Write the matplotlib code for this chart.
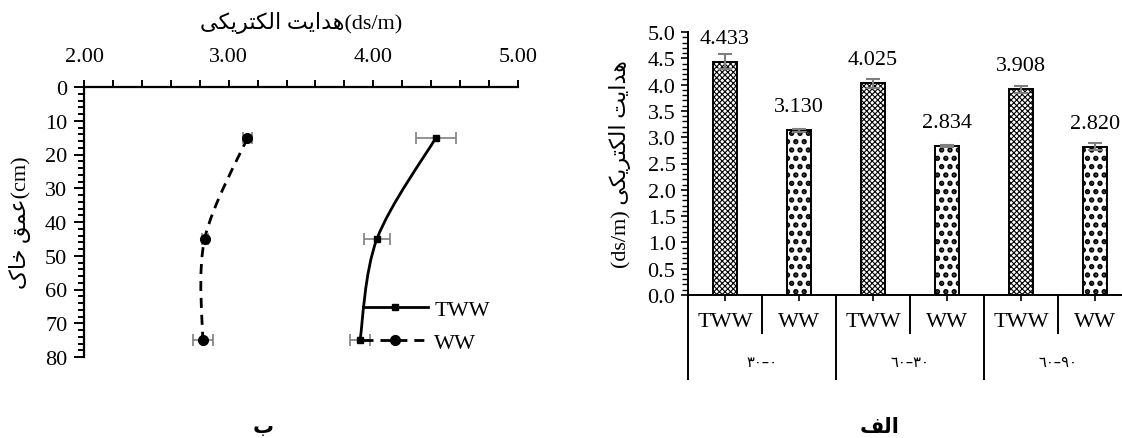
import matplotlib
matplotlib.use('Agg')
import matplotlib.pyplot as plt
import numpy as np
from matplotlib.path import Path
from matplotlib.patches import PathPatch
from matplotlib.lines import Line2D
from matplotlib.ticker import MultipleLocator, FormatStrFormatter

# data
treatments = ['TWW', 'WW']
depth_groups = ['\u0663\u0660\u2013\u0660', '\u0666\u0660\u2013\u0663\u0660', '\u0666\u0660\u2013\u0669\u0660']
depth_cm = [15, 45, 75]
ec_tww = [4.433, 4.025, 3.908]
ec_ww = [3.130, 2.834, 2.820]
err_tww = [0.14, 0.09, 0.07]
err_ww = [0.03, 0.02, 0.07]

# small persian shaper (presentation forms, visual order)
KEHEH = ('\uFB8E', '\uFB8F', '\uFB90', '\uFB91')
YEH = ('\uFBFC', '\uFBFD', '\uFBFE', '\uFBFF')
FORMS = {
    '\u0627': ('\uFE8D', '\uFE8E', None, None),
    '\u0628': ('\uFE8F', '\uFE90', '\uFE91', '\uFE92'),
    '\u062A': ('\uFE95', '\uFE96', '\uFE97', '\uFE98'),
    '\u062E': ('\uFEA5', '\uFEA6', '\uFEA7', '\uFEA8'),
    '\u062F': ('\uFEA9', '\uFEAA', None, None),
    '\u0631': ('\uFEAD', '\uFEAE', None, None),
    '\u0639': ('\uFEC9', '\uFECA', '\uFECB', '\uFECC'),
    '\u0641': ('\uFED1', '\uFED2', '\uFED3', '\uFED4'),
    '\u0642': ('\uFED5', '\uFED6', '\uFED7', '\uFED8'),
    '\u0644': ('\uFEDD', '\uFEDE', '\uFEDF', '\uFEE0'),
    '\u0645': ('\uFEE1', '\uFEE2', '\uFEE3', '\uFEE4'),
    '\u0647': ('\uFEE9', '\uFEEA', '\uFEEB', '\uFEEC'),
    '\u06A9': KEHEH, '\u0643': KEHEH,
    '\u06CC': YEH, '\u064A': YEH,
}


def fa(s):
    out = []
    for i, c in enumerate(s):
        f = FORMS.get(c)
        if f is None:
            out.append(c)
            continue
        prev = s[i - 1] if i > 0 else ''
        nxt = s[i + 1] if i + 1 < len(s) else ''
        jp = prev in FORMS and FORMS[prev][2] is not None
        jn = f[2] is not None and nxt in FORMS
        out.append(f[3] if (jp and jn) else f[1] if jp else f[2] if jn else f[0])
    return ''.join(reversed(out))


ec_word = fa('\u0647\u062F\u0627\u06CC\u062A \u0627\u0644\u06A9\u062A\u0631\u06CC\u06A9\u06CC')
depth_word = fa('\u0639\u0645\u0642 \u062E\u0627\u06A9')

FAM = ['Liberation Serif', 'DejaVu Sans']
plt.rcParams['font.family'] = FAM
plt.rcParams['font.size'] = 16


def smooth_path(x, y):
    pts = np.column_stack([x, y]).astype(float)
    p = np.vstack([pts[0], pts, pts[-1]])
    verts = [pts[0]]
    codes = [Path.MOVETO]
    for i in range(1, len(pts)):
        p0, p1, p2, p3 = p[i - 1], p[i], p[i + 1], p[i + 2]
        verts += [p1 + (p2 - p0) / 6, p2 - (p3 - p1) / 6, p2]
        codes += [Path.CURVE4] * 3
    return Path(verts, codes)


fig = plt.figure(figsize=(11.22, 4.39), dpi=100)

# ---- left: depth profile ----
ax1 = fig.add_axes([84 / 1122, 81 / 439, 434 / 1122, 270 / 439])
ax1.set_xlim(2, 5)
ax1.set_ylim(80, 0)
for s in ['bottom', 'right']:
    ax1.spines[s].set_visible(False)
for s in ['top', 'left']:
    ax1.spines[s].set_linewidth(1.6)
ax1.xaxis.tick_top()
ax1.xaxis.set_label_position('top')
ax1.xaxis.set_major_locator(MultipleLocator(1))
ax1.xaxis.set_minor_locator(MultipleLocator(0.2))
ax1.xaxis.set_major_formatter(FormatStrFormatter('%.2f'))
ax1.yaxis.set_major_locator(MultipleLocator(10))
ax1.yaxis.set_minor_locator(MultipleLocator(2))
ax1.tick_params(axis='x', which='both', direction='out', length=5, width=1.4, pad=10)
ax1.tick_params(axis='y', which='major', direction='out', length=7, width=1.4, pad=5)
ax1.tick_params(axis='y', which='minor', direction='out', length=4, width=1.4)
ax1.set_xlabel(ec_word + '(ds/m)', labelpad=14)
ax1.set_ylabel(depth_word + '(cm)', labelpad=10)

ax1.add_patch(PathPatch(smooth_path(ec_tww, depth_cm), fill=False, lw=2, color='black'))
ax1.add_patch(PathPatch(smooth_path(ec_ww, depth_cm), fill=False, lw=2, color='black',
                        linestyle=(0, (3.6, 2.5))))
ax1.errorbar(ec_tww, depth_cm, xerr=err_tww, fmt='none', ecolor='#7f7f7f',
             elinewidth=1.2, capsize=4, capthick=1.2)
ax1.errorbar(ec_ww, depth_cm, xerr=err_ww, fmt='none', ecolor='#7f7f7f',
             elinewidth=1.2, capsize=4, capthick=1.2)
ax1.plot(ec_tww, depth_cm, linestyle='none', marker='s', ms=4, color='black', zorder=5)
ax1.plot(ec_ww, depth_cm, linestyle='none', marker='o', ms=7, color='black', zorder=5)

handles = [Line2D([], [], color='black', lw=2, marker='s', ms=4),
           Line2D([], [], color='black', lw=2, marker='o', ms=7, linestyle=(0, (3.6, 2.5)))]
ax1.legend(handles, treatments, loc='center left', bbox_to_anchor=(0.643, 0.115),
           frameon=False, handlelength=2.9, handletextpad=0.3, labelspacing=0.55,
           borderpad=0, borderaxespad=0)

# ---- right: bar chart ----
ax2 = fig.add_axes([688 / 1122, 143 / 439, 444 / 1122, 263 / 439])
vals = [v for pair in zip(ec_tww, ec_ww) for v in pair]
errs = [e for pair in zip(err_tww, err_ww) for e in pair]
labels = treatments * len(depth_groups)
xpos = np.arange(len(vals))
hatches = ['xxxxxx', '..'] * len(depth_groups)
plt.rcParams['hatch.linewidth'] = 2.6
bars = ax2.bar(xpos, vals, width=0.32, color='white', edgecolor='black', linewidth=1.4,
               yerr=errs, capsize=5, error_kw=dict(ecolor='#7f7f7f', elinewidth=1.5, capthick=1.5))
for b, h in zip(bars, hatches):
    b.set_hatch(h)
    if hasattr(b, 'set_hatch_linewidth'):
        b.set_hatch_linewidth(0.8 if h.startswith('x') else 2.6)
for x, v in zip(xpos, vals):
    ax2.annotate('%.3f' % v, (x, v), xytext=(0, 17), textcoords='offset points',
                 ha='center', va='center', fontsize=16)

ax2.set_xlim(-0.5, len(vals) - 0.5)
ax2.set_ylim(0, 5)
ax2.spines['top'].set_visible(False)
ax2.spines['right'].set_visible(False)
ax2.spines['left'].set_linewidth(1.4)
ax2.spines['bottom'].set_linewidth(1.4)
ax2.yaxis.set_major_locator(MultipleLocator(0.5))
ax2.yaxis.set_minor_locator(MultipleLocator(0.1))
ax2.yaxis.set_major_formatter(FormatStrFormatter('%.1f'))
ax2.tick_params(axis='y', which='major', direction='out', length=5, width=1.2, pad=4)
ax2.tick_params(axis='y', which='minor', direction='out', length=4, width=1.0)
ax2.set_xticks(xpos, labels)
ax2.tick_params(axis='x', direction='out', length=4, width=1.2, pad=8)
ax2.set_ylabel('(ds/m) ' + ec_word, labelpad=12)

tr = ax2.get_xaxis_transform()
for i in range(len(vals) + 1):
    bottom = -0.319 if i % 2 == 0 else -0.1445
    ax2.plot([i - 0.5, i - 0.5], [0, bottom], transform=tr, color='black', lw=1.4,
             clip_on=False)
for g, name in enumerate(depth_groups):
    ax2.text(2 * g + 0.5, -0.251, name, transform=tr, ha='center', va='center',
             fontsize=10.5, family=['DejaVu Sans'])

fig.text(263 / 1122, 12 / 439, fa('\u0628'), ha='center', va='center', fontsize=15,
         fontweight='bold', family=['DejaVu Sans'])
fig.text(880 / 1122, 12 / 439, fa('\u0627\u0644\u0641'), ha='center', va='center',
         fontsize=15, fontweight='bold', family=['DejaVu Sans'])

fig.savefig('out.png', dpi=100)
